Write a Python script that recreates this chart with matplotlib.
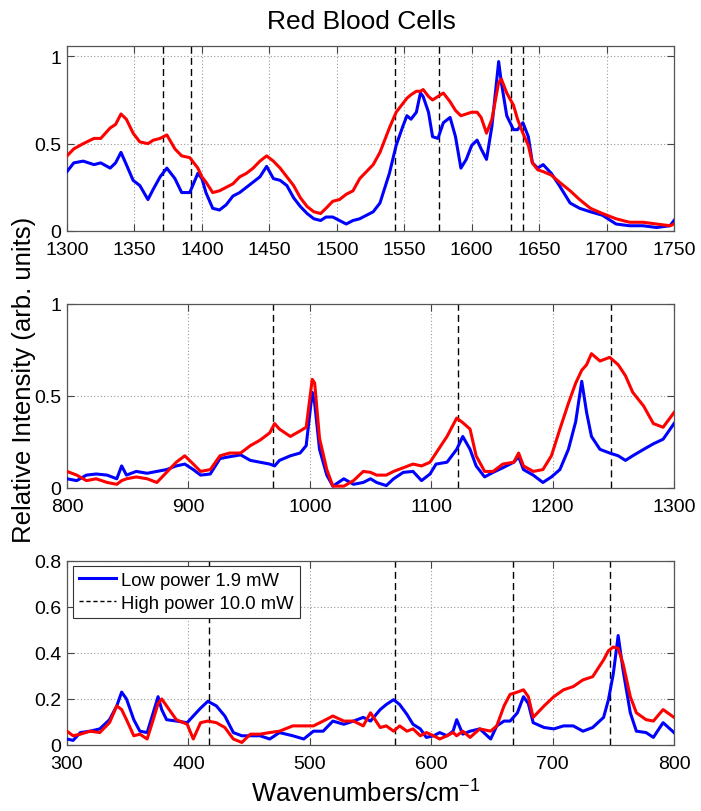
import matplotlib
matplotlib.use('Agg')
import matplotlib.pyplot as plt
from matplotlib.ticker import FormatStrFormatter

plt.rcParams['font.family'] = ['Liberation Sans', 'DejaVu Sans']
plt.rcParams['mathtext.fontset'] = 'custom'
plt.rcParams['mathtext.rm'] = 'Liberation Sans'
plt.rcParams['mathtext.it'] = 'Liberation Sans'

# --- top panel: 1300-1750 cm-1
wn_top = [1300, 1305, 1312, 1320, 1325, 1332, 1336, 1340, 1344, 1349, 1354, 1360, 1364, 1369,
          1374, 1380, 1385, 1391, 1397, 1400, 1403, 1408, 1413, 1418, 1423, 1428, 1433, 1438,
          1443, 1448, 1453, 1458, 1463, 1468, 1473, 1478, 1483, 1488, 1492, 1497, 1502, 1507,
          1512, 1517, 1522, 1527, 1532, 1539, 1544, 1549, 1552, 1555, 1559, 1562, 1564, 1568,
          1571, 1575, 1579, 1584, 1588, 1592, 1596, 1600, 1604, 1607, 1611, 1615, 1620, 1622,
          1626, 1631, 1634, 1638, 1642, 1645, 1649, 1653, 1659, 1665, 1673, 1680, 1688, 1697,
          1707, 1717, 1727, 1737, 1747, 1750]
low_top = [.34, .39, .40, .38, .39, .36, .39, .45, .38, .29, .26, .18, .24, .31,
           .36, .30, .22, .22, .33, .30, .22, .13, .12, .15, .20, .22, .25, .28,
           .31, .37, .30, .29, .26, .19, .14, .10, .07, .06, .08, .08, .06, .04,
           .06, .07, .09, .11, .16, .33, .49, .60, .66, .64, .68, .79, .77, .68,
           .54, .53, .62, .65, .54, .36, .41, .49, .52, .47, .41, .60, .97, .85,
           .66, .58, .58, .62, .54, .39, .36, .38, .33, .26, .16, .13, .11, .09,
           .04, .03, .03, .02, .03, .06]
high_top = [.43, .47, .50, .53, .53, .59, .61, .67, .64, .56, .51, .50, .52, .53,
            .55, .47, .43, .42, .36, .31, .28, .22, .23, .25, .27, .31, .33, .36,
            .40, .43, .40, .36, .31, .26, .19, .14, .11, .10, .13, .17, .18, .21,
            .23, .30, .34, .38, .45, .59, .68, .73, .76, .78, .80, .80, .81, .77,
            .75, .77, .79, .74, .69, .66, .67, .68, .68, .65, .56, .64, .85, .87,
            .79, .72, .64, .56, .49, .39, .35, .34, .32, .28, .23, .18, .13, .10,
            .07, .05, .05, .04, .03, .04]
marks_top = [1371, 1392, 1543, 1576, 1629, 1638]

# --- middle panel: 800-1300 cm-1
wn_mid = [800, 808, 816, 824, 833, 841, 845, 849, 857, 866, 874, 882, 890, 897, 904, 910,
          918, 926, 934, 943, 951, 959, 967, 971, 975, 984, 992, 997, 1002, 1004, 1008,
          1014, 1019, 1028, 1036, 1044, 1050, 1055, 1063, 1069, 1077, 1085, 1092, 1099,
          1104, 1113, 1121, 1126, 1132, 1137, 1144, 1151, 1159, 1168, 1172, 1176, 1184,
          1192, 1199, 1206, 1213, 1219, 1224, 1228, 1232, 1239, 1247, 1254, 1260, 1266,
          1275, 1283, 1291, 1300]
low_mid = [.05, .04, .07, .076, .07, .05, .12, .07, .09, .08, .09, .10, .12, .13, .10, .07,
           .076, .16, .17, .18, .15, .14, .13, .12, .15, .175, .19, .23, .52, .46, .21,
           .07, .01, .05, .02, .03, .05, .03, .013, .05, .085, .09, .04, .076,
           .13, .14, .21, .28, .21, .12, .06, .085, .11, .14, .17, .10, .07,
           .03, .06, .10, .21, .36, .58, .41, .28, .21, .19, .175, .15, .175,
           .21, .24, .265, .35]
high_mid = [.09, .07, .04, .05, .03, .02, .04, .05, .06, .05, .03, .085, .14, .175, .13, .09,
            .10, .175, .19, .19, .23, .26, .30, .35, .32, .28, .31, .33, .59, .57, .27,
            .10, .01, .01, .04, .09, .085, .07, .07, .09, .11, .13, .12, .14,
            .19, .28, .38, .355, .32, .175, .09, .09, .13, .14, .19, .12, .09,
            .10, .175, .32, .46, .57, .64, .67, .73, .69, .71, .67, .61, .52,
            .445, .35, .33, .41]
marks_mid = [970, 1122, 1248]

# --- bottom panel: 300-800 cm-1
wn_bot = [300, 305, 311, 319, 327, 335, 341, 345, 349, 355, 360, 366, 371, 375, 378, 382,
          390, 399, 404, 410, 416, 423, 430, 437, 444, 451, 459, 467, 475, 486, 495, 503,
          511, 519, 528, 536, 544, 550, 558, 563, 569, 574, 580, 585, 591, 596, 602, 607,
          613, 618, 621, 626, 632, 640, 649, 654, 660, 665, 671, 676, 680, 684, 693, 701,
          709, 717, 725, 733, 742, 746, 750, 754, 758, 764, 769, 777, 783, 791, 800]
low_bot = [.026, .02, .054, .06, .07, .11, .17, .23, .20, .11, .06, .054, .14, .21, .154, .11,
           .104, .097, .126, .16, .19, .17, .126, .054, .04, .04, .04, .026, .054, .04, .026, .06,
           .06, .104, .09, .104, .12, .104, .154, .176, .197, .176, .133, .09, .07, .033, .04, .054,
           .04, .06, .11, .047, .06, .07, .026, .083, .104, .104, .14, .21, .18, .097, .076, .07,
           .083, .083, .06, .076, .12, .197, .31, .476, .326, .14, .06, .054, .033, .097, .054]
high_bot = [.06, .04, .047, .06, .054, .097, .17, .154, .11, .04, .047, .026, .11, .18, .20, .17,
            .11, .09, .026, .097, .104, .097, .076, .026, .011, .047, .047, .054, .06, .083, .083, .083,
            .104, .126, .104, .104, .083, .14, .076, .083, .06, .083, .06, .07, .04, .054, .04, .026,
            .04, .054, .04, .06, .033, .07, .06, .083, .17, .22, .23, .24, .21, .12, .17, .21,
            .24, .254, .283, .297, .37, .41, .426, .42, .354, .21, .14, .11, .104, .154, .12]
marks_bot = [417, 570, 667, 747]

panels = [
    (wn_top, low_top, high_top, marks_top, (1300, 1750), 50, (0, 1.06), [0, 0.5, 1]),
    (wn_mid, low_mid, high_mid, marks_mid, (800, 1300), 100, (0, 1), [0, 0.5, 1]),
    (wn_bot, low_bot, high_bot, marks_bot, (300, 800), 100, (0, 0.8), [0, 0.2, 0.4, 0.6, 0.8]),
]
bottoms = [0.7143, 0.3978, 0.0813]
heights = [0.228, 0.2266, 0.2266]

fig = plt.figure(figsize=(7.01, 8.12), dpi=100)
axes = []
for (wn, lo, hi, marks, xl, xstep, yl, yt), b, h in zip(panels, bottoms, heights):
    ax = fig.add_axes([0.0956, b, 0.8659, h])
    for m in marks:
        ax.axvline(m, color='k', linestyle=(0, (5, 3)), linewidth=1.0, zorder=2)
    l1, = ax.plot(wn, lo, color=(0, 0, 1), linewidth=2.2, zorder=3)
    ax.plot(wn, hi, color=(1, 0, 0), linewidth=2.2, zorder=4)
    ax.set_xlim(xl)
    ax.set_ylim(yl)
    ax.set_xticks(range(xl[0], xl[1] + 1, xstep))
    ax.set_yticks(yt)
    ax.yaxis.set_major_formatter(FormatStrFormatter('%g'))
    ax.grid(True, linestyle=(0, (1, 2)), color='#9a9a9a', linewidth=0.8)
    ax.set_axisbelow(True)
    ax.tick_params(direction='in', top=True, right=True, length=5, width=0.8,
                   color='#444444', labelsize=14)
    ax.tick_params(axis='x', pad=7)
    ax.tick_params(axis='y', pad=4)
    for s in ax.spines.values():
        s.set_color('#555555')
        s.set_linewidth(0.9)
    axes.append((ax, l1))

ax3, l1 = axes[-1]
dash_handle, = ax3.plot([], [], color='k', linestyle=(0, (3, 2)), linewidth=1.0)
leg = ax3.legend([l1, dash_handle], ['Low power 1.9 mW', 'High power 10.0 mW'],
                 loc='upper left', bbox_to_anchor=(0.0094, 0.973), borderaxespad=0,
                 fontsize=13.3, fancybox=False, framealpha=1, edgecolor='#333333',
                 handlelength=2.0, handletextpad=0.3, labelspacing=0.32, borderpad=0.32)
leg.get_frame().set_linewidth(0.8)

fig.text(0.515, 0.964, 'Red Blood Cells', ha='center', va='baseline', fontsize=19)
fig.text(0.034, 0.532, 'Relative Intensity (arb. units)', rotation=90,
         ha='center', va='center', fontsize=18.5)
fig.text(0.522, 1 - 803 / 812, 'Wavenumbers/cm$^{-1}$', ha='center', va='baseline', fontsize=18.5)

fig.savefig('out.png', dpi=100)
plt.close(fig)
